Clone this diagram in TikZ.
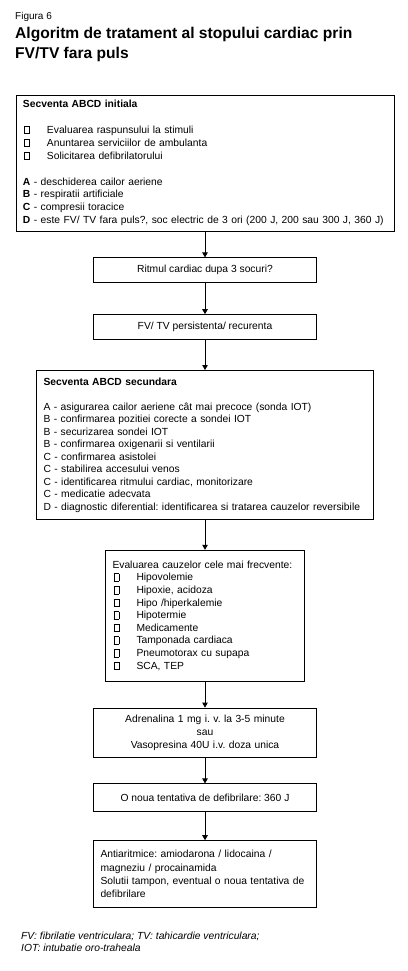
\documentclass[tikz,border=0pt]{standalone}
\usepackage{fontspec}
\setmainfont{Liberation Sans}
\usetikzlibrary{
    arrows.meta,
    positioning
}
\tikzset{
    flowtip /.tip = {Triangle[length=5pt,width=5.5pt]}
  }
\tikzset{
    flowbox/.style = {rectangle, draw, line width=0.8pt,
      inner xsep=7pt, inner ysep=3pt,
      font=\fontsize{10.3}{12.5}\selectfont}
  }
\tikzset{
    flowarrow/.style = {flowtip-, line width=0.8pt}
  }
\newcommand{\bulbox}{\hspace*{1pt}\makebox[23pt][l]{\fboxsep=0pt\fboxrule=0.7pt\fbox{\rule{0pt}{6.8pt}\hspace{4.5pt}}}}
\frenchspacing

\begin{document}
\begin{tikzpicture}[x=1pt,y=-1pt]

\useasboundingbox (0,0) rectangle (407,971);

\node[anchor=base west, inner sep=0pt,
      font=\fontsize{10}{12}\selectfont]
  at (15,20) (fig) {Figura 6};

\node[anchor=base west, inner sep=0pt,
      font=\fontsize{15.6}{18}\selectfont\bfseries]
  at (15,39) (title_one) {Algoritm de tratament al stopului cardiac prin};

\node[anchor=base west, inner sep=0pt,
      font=\fontsize{15.6}{18}\selectfont\bfseries]
  at (15,59) (title_two) {FV/TV fara puls};



\node[flowbox, text width=364pt, minimum height=136pt, align=left,
      font=\fontsize{10.3}{12.9}\selectfont]
  at (205,163) (abcd_one)
  {\textbf{Secventa ABCD initiala}\\[12.9pt]
   \bulbox Evaluarea raspunsului la stimuli\\
   \bulbox Anuntarea serviciilor de ambulanta\\
   \bulbox Solicitarea defibrilatorului\\[12.9pt]
   \textbf{A} - deschiderea cailor aeriene\\
   \textbf{B} - respiratii artificiale\\
   \textbf{C} - compresii toracice\\
   \mbox{\textbf{D} - este FV/ TV fara puls?, soc electric de 3 ori (200 J, 200 sau 300 J, 360 J)}};

\node[flowbox, minimum width=223pt, minimum height=25pt,
      below=26pt of abcd_one]
  (ritm) {Ritmul cardiac dupa 3 socuri?}
  edge[flowarrow] (abcd_one);

\node[flowbox, minimum width=223pt, minimum height=25pt,
      below=31pt of ritm]
  (fvtv) {FV/ TV persistenta/ recurenta}
  edge[flowarrow] (ritm);

\node[flowbox, text width=323pt, minimum height=149pt, align=left,
      below=30pt of fvtv]
  (abcd_two)
  {\textbf{Secventa ABCD secundara}\\[12.5pt]
   A - asigurarea cailor aeriene cât mai precoce (sonda IOT)\\
   B - confirmarea pozitiei corecte a sondei IOT\\
   B - securizarea sondei IOT\\
   B - confirmarea oxigenarii si ventilarii\\
   C - confirmarea asistolei\\
   C - stabilirea accesului venos\\
   C - identificarea ritmului cardiac, monitorizare\\
   C - medicatie adecvata\\
   \mbox{D - diagnostic diferential: identificarea si tratarea cauzelor reversibile}}
  edge[flowarrow] (fvtv);

\node[flowbox, text width=185pt, minimum height=131pt, align=left,
      font=\fontsize{10.3}{12.6}\selectfont,
      below=30pt of abcd_two]
  (cauze)
  {Evaluarea cauzelor cele mai frecvente:\\
   \bulbox Hipovolemie\\
   \bulbox Hipoxie, acidoza\\
   \bulbox Hipo /hiperkalemie\\
   \bulbox Hipotermie\\
   \bulbox Medicamente\\
   \bulbox Tamponada cardiaca\\
   \bulbox Pneumotorax cu supapa\\
   \bulbox SCA, TEP}
  edge[flowarrow] (abcd_two);

\node[flowbox, text width=209pt, minimum height=49pt, align=center,
      font=\fontsize{10.3}{13}\selectfont,
      below=26pt of cauze]
  (adrenalina)
  {Adrenalina 1 mg i. v. la 3-5 minute\\
   sau\\
   Vasopresina 40U i.v. doza unica}
  edge[flowarrow] (cauze);

\node[flowbox, minimum width=223pt, minimum height=28pt,
      below=26pt of adrenalina]
  (defib) {O noua tentativa de defibrilare: 360 J}
  edge[flowarrow] (adrenalina);

\node[flowbox, text width=209pt, minimum height=67pt, align=left,
      font=\fontsize{10.3}{13.3}\selectfont,
      below=28pt of defib]
  (antiaritm)
  {Antiaritmice: amiodarona / lidocaina /\\
   magneziu / procainamida\\
   Solutii tampon, eventual o noua tentativa de\\
   defibrilare}
  edge[flowarrow] (defib);



\node[anchor=base west, inner sep=0pt,
      font=\fontsize{10.3}{12}\selectfont\itshape]
  at (21,939) (nota_one) {FV: fibrilatie ventriculara; TV: tahicardie ventriculara;};

\node[anchor=base west, inner sep=0pt,
      font=\fontsize{10.3}{12}\selectfont\itshape]
  at (21,951) (nota_two) {IOT: intubatie oro-traheala};

\end{tikzpicture}
\end{document}
